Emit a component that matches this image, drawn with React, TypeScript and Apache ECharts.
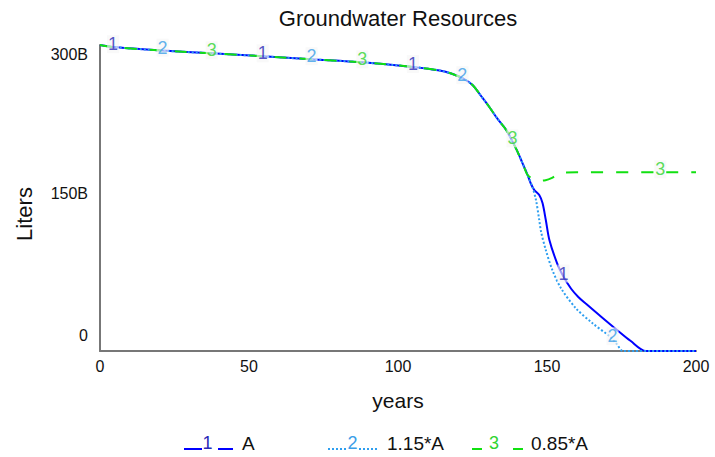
import React, { useEffect, useRef } from 'react';
import * as echarts from 'echarts';

const chartTitle = 'Groundwater Resources';
const xAxisName = 'years';
const yAxisName = 'Liters';
const xTickStep = 50;
const xMax = 200;
const yTickValues = [0, 150, 300];
const yTickLabels = ['0', '150B', '300B'];
const seriesNames = ['A', '1.15*A', '0.85*A'];
const seriesDigits = ['1', '2', '3'];

// Billions of liters, shared by all three runs until they split
const sharedYears = [0, 4.4, 21, 37.5, 54.6, 71, 88, 105, 114, 118.3, 121.6, 125, 128, 130.7, 133.3, 136.3, 138.4, 140.1, 141.8, 143.5];
const sharedLiters = [300, 298, 294.5, 291.8, 289, 286, 283, 278.5, 275, 271.6, 267.5, 260.8, 249.5, 239, 228, 216.7, 205.5, 195.4, 184, 172.5];

const aYears = [144.6, 145.7, 147.4, 148.5, 149.6, 150.8, 153.4, 155.5, 158.1, 160.5, 163, 167.5, 173.5, 178, 183.2, 200];
const aLiters = [164, 158, 153, 145, 128.4, 108.8, 86, 73, 61, 53, 46.5, 35.3, 20.6, 10, 0, 0];

const bYears = [145.1, 146.3, 147.4, 148, 149.6, 151.8, 154.7, 159.7, 165.2, 170.9, 172, 173.5, 175.5, 200];
const bLiters = [161, 148, 128.4, 117, 99, 79.4, 61.5, 41.9, 27.4, 14.7, 11.5, 6.5, 0, 0];

const cYears = [145.5, 147.5, 149.5, 151.5, 153.5, 155.5, 160, 188, 200];
const cLiters = [168.5, 167, 167.5, 169.5, 173, 175, 175.2, 175.2, 175.2];

const aLabelYears = [4.4, 54.6, 105, 155.5];
const bLabelYears = [21, 71, 121.6, 172];
const cLabelYears = [37.5, 88, 138.4, 188];

const FONT = '"Liberation Sans", Arial, Helvetica, sans-serif';
const lineColors = ['#0000ff', '#2e9ff0', '#11e011'];
const digitColors = ['#2a2ab8', '#3a9ee8', '#2fd42f'];
const lineTypes: any[] = ['solid', [2, 2], [12, 13]];

function buildPairs(years: number[], values: number[]) {
  return years.map((y, i) => [y, values[i]]);
}

export default function App() {
  const ref = useRef<HTMLDivElement>(null);
  useEffect(() => {
    if (!ref.current) return;
    const chart = echarts.init(ref.current, undefined, { renderer: 'svg' });
    const shared = buildPairs(sharedYears, sharedLiters);
    const runs = [
      shared.concat(buildPairs(aYears, aLiters)),
      shared.concat(buildPairs(bYears, bLiters)),
      shared.concat(buildPairs(cYears, cLiters)),
    ];
    const labelYears = [aLabelYears, bLabelYears, cLabelYears];

    const series: any[] = [];
    runs.forEach((data, i) => {
      series.push({
        type: 'line',
        name: seriesNames[i],
        data,
        symbol: 'none',
        showSymbol: false,
        smooth: 0.3,
        lineStyle: { color: lineColors[i], width: 2, type: lineTypes[i] },
        z: 2 + i,
        silent: true,
      });
    });
    runs.forEach((data, i) => {
      const pts = labelYears[i].map((y) => data.find((p) => p[0] === y)).filter(Boolean);
      series.push({
        type: 'scatter',
        name: seriesNames[i] + ' labels',
        data: pts,
        symbol: 'rect',
        symbolSize: 1,
        itemStyle: { color: 'rgba(0,0,0,0)' },
        silent: true,
        z: 10,
        label: {
          show: true,
          position: 'inside',
          formatter: seriesDigits[i],
          color: digitColors[i],
          fontSize: 18,
          fontFamily: FONT,
          backgroundColor: 'rgba(245,245,245,0.8)',
          padding: [0, 1, 0, 1],
          offset: [0, -3],
        },
      });
    });

    const legendX = [
      [184, 202, 207.5, 218, 233, 242],
      [328, 346, 352.5, 359, 378, 387],
      [472, 482, 494, 513, 523, 531],
    ];
    const legendElems: any[] = [];
    seriesNames.forEach((name, i) => {
      const [a1, a2, d, b1, b2, t] = legendX[i];
      const ls = { stroke: lineColors[i], lineWidth: 2, lineDash: i === 1 ? lineTypes[i] : null };
      legendElems.push({ type: 'line', shape: { x1: a1, y1: 449, x2: a2, y2: 449 }, style: ls });
      legendElems.push({ type: 'line', shape: { x1: b1, y1: 449, x2: b2, y2: 449 }, style: ls });
      legendElems.push({ type: 'text', x: d, y: 443, style: { text: seriesDigits[i], fill: digitColors[i], font: `18px ${FONT}`, align: 'center', verticalAlign: 'middle' } });
      legendElems.push({ type: 'text', x: t, y: 443, style: { text: name, fill: '#111', font: `19px ${FONT}`, align: 'left', verticalAlign: 'middle' } });
    });

    chart.setOption({
      animation: false,
      backgroundColor: '#ffffff',
      title: {
        text: chartTitle,
        left: 398,
        top: 7,
        padding: 0,
        textAlign: 'center',
        textStyle: { fontSize: 22, fontWeight: 'normal', color: '#111', fontFamily: FONT },
      },
      grid: { left: 100, right: 19, top: 45, bottom: 106, containLabel: false },
      xAxis: {
        type: 'value',
        min: 0,
        max: xMax,
        interval: xTickStep,
        name: xAxisName,
        nameLocation: 'middle',
        nameGap: 39,
        nameTextStyle: { fontSize: 21, color: '#111', fontFamily: FONT },
        axisLine: { show: true, lineStyle: { color: '#777', width: 2 } },
        axisTick: { show: false },
        splitLine: { show: false },
        axisLabel: { fontSize: 16, color: '#111', fontFamily: FONT, margin: 7 },
      },
      yAxis: {
        type: 'value',
        min: 0,
        max: 300,
        interval: 150,
        axisLine: { show: true, lineStyle: { color: '#777', width: 2 } },
        axisTick: { show: false },
        splitLine: { show: false },
        axisLabel: {
          margin: 12,
          color: '#111',
          fontSize: 16,
          fontFamily: FONT,
          formatter: (v: number) => {
            const i = yTickValues.indexOf(v);
            if (i < 0) return '';
            return `{${['z', 'm', 't'][i]}|${yTickLabels[i]}}`;
          },
          rich: {
            z: { fontSize: 16, fontFamily: FONT, color: '#111', padding: [0, 0, 32, 0] },
            m: { fontSize: 16, fontFamily: FONT, color: '#111', padding: [0, 0, 10, 0] },
            t: { fontSize: 16, fontFamily: FONT, color: '#111', padding: [18, 0, 0, 0] },
          },
        },
      },
      graphic: [
        {
          type: 'text',
          x: 24,
          y: 214,
          rotation: Math.PI / 2,
          style: { text: yAxisName, fill: '#111', font: `22px ${FONT}`, align: 'center', verticalAlign: 'middle' },
        },
        ...legendElems,
      ],
      series,
    });
    return () => chart.dispose();
  }, []);
  return <div ref={ref} style={{ position: 'absolute', left: 0, top: 0, width: 715, height: 457 }} />;
}
